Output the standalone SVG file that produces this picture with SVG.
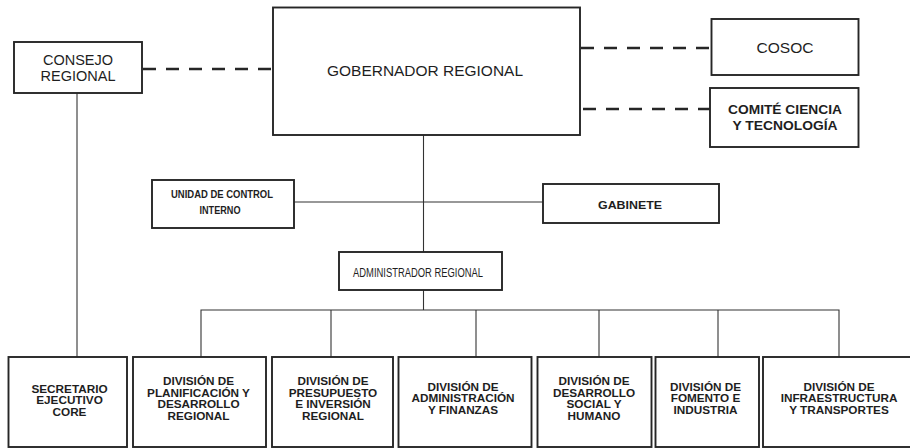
<svg xmlns="http://www.w3.org/2000/svg" width="910" height="448" viewBox="0 0 910 448">
<style>
.box{fill:#fff;stroke:#262626;stroke-width:1.9}
.ln{fill:none;stroke:#333;stroke-width:1.1}
.dash{fill:none;stroke:#262626;stroke-width:2.6;stroke-dasharray:13 10}
.t{font-family:"Liberation Sans",Arial,sans-serif;fill:#1e1e1e;text-anchor:middle}
.big{font-size:14.5px}
.mid{font-size:13px;font-weight:bold}
.sm{font-size:11.5px;font-weight:bold}
.adm{font-size:12.5px}
.b{font-size:10.5px;font-weight:bold}
</style>
<rect width="910" height="448" fill="#fff"/>
<g id="connectors">
<line class="dash" x1="143" y1="69" x2="273" y2="69"/>
<line class="dash" x1="581" y1="48" x2="711" y2="48"/>
<line class="dash" x1="583" y1="109" x2="710" y2="109"/>
<line class="ln" x1="77" y1="93" x2="77" y2="357"/>
<line class="ln" x1="423.5" y1="135" x2="423.5" y2="252"/>
<line class="ln" x1="294" y1="202" x2="543" y2="202"/>
<line class="ln" x1="423.5" y1="290" x2="423.5" y2="310"/>
<polyline class="ln" points="201,357 201,310 839,310 839,357"/>
<line class="ln" x1="331" y1="310" x2="331" y2="357"/>
<line class="ln" x1="476" y1="310" x2="476" y2="357"/>
<line class="ln" x1="599" y1="310" x2="599" y2="357"/>
<line class="ln" x1="718" y1="310" x2="718" y2="357"/>
</g>
<g id="consejo">
<rect class="box" x="14" y="42" width="128" height="51"/>
<text class="t big" x="78" y="65.2">CONSEJO</text>
<text class="t big" x="78" y="81.2">REGIONAL</text>
</g>
<g id="gobernador">
<rect class="box" x="273" y="7.5" width="307" height="127.5"/>
<text class="t big" x="425" y="76" textLength="196" lengthAdjust="spacingAndGlyphs">GOBERNADOR REGIONAL</text>
</g>
<g id="cosoc">
<rect class="box" x="711.5" y="19" width="147" height="56"/>
<text class="t big" x="785" y="53.4" textLength="57" lengthAdjust="spacingAndGlyphs">COSOC</text>
</g>
<g id="comite">
<rect class="box" x="710" y="88" width="148.5" height="59"/>
<text class="t mid" x="785" y="113.6" textLength="114" lengthAdjust="spacingAndGlyphs">COMITÉ CIENCIA</text>
<text class="t mid" x="785" y="129.8" textLength="105" lengthAdjust="spacingAndGlyphs">Y TECNOLOGÍA</text>
</g>
<g id="unidad">
<rect class="box" x="152" y="180" width="142" height="48"/>
<text class="t sm" x="222" y="198" textLength="102" lengthAdjust="spacingAndGlyphs">UNIDAD DE CONTROL</text>
<text class="t sm" x="220" y="214" textLength="41" lengthAdjust="spacingAndGlyphs">INTERNO</text>
</g>
<g id="gabinete">
<rect class="box" x="543" y="184" width="176" height="39"/>
<text class="t sm" x="630" y="208.5" textLength="64" lengthAdjust="spacingAndGlyphs">GABINETE</text>
</g>
<g id="administrador">
<rect class="box" x="339" y="252" width="163" height="38"/>
<text class="t adm" x="418" y="276.5" textLength="130" lengthAdjust="spacingAndGlyphs">ADMINISTRADOR REGIONAL</text>
</g>
<g id="secretario">
<rect class="box" x="8.5" y="357" width="118.5" height="90"/>
<g transform="translate(69.5 0) scale(1.12 1)">
<text class="t b" x="0" y="392.6">SECRETARIO</text>
<text class="t b" x="0" y="404.1">EJECUTIVO</text>
<text class="t b" x="0" y="415.6">CORE</text>
</g>
</g>
<g id="planificacion">
<rect class="box" x="133" y="357" width="133" height="90"/>
<g transform="translate(198.5 0) scale(1.12 1)">
<text class="t b" x="0" y="384.6">DIVISIÓN DE</text>
<text class="t b" x="0" y="396.6">PLANIFICACIÓN Y</text>
<text class="t b" x="0" y="408.1">DESARROLLO</text>
<text class="t b" x="0" y="419.6">REGIONAL</text>
</g>
</g>
<g id="presupuesto">
<rect class="box" x="272" y="357" width="121" height="90"/>
<g transform="translate(333 0) scale(1.12 1)">
<text class="t b" x="0" y="384.6">DIVISIÓN DE</text>
<text class="t b" x="0" y="396.6">PRESUPUESTO</text>
<text class="t b" x="0" y="408.1">E INVERSIÓN</text>
<text class="t b" x="0" y="419.6">REGIONAL</text>
</g>
</g>
<g id="administracion">
<rect class="box" x="398.5" y="357" width="133" height="90"/>
<g transform="translate(463 0) scale(1.12 1)">
<text class="t b" x="0" y="390.6">DIVISIÓN DE</text>
<text class="t b" x="0" y="402.1">ADMINISTRACIÓN</text>
<text class="t b" x="0" y="413.6">Y FINANZAS</text>
</g>
</g>
<g id="desarrollo_social">
<rect class="box" x="537.5" y="357" width="114" height="90"/>
<g transform="translate(594 0) scale(1.12 1)">
<text class="t b" x="0" y="384.6">DIVISIÓN DE</text>
<text class="t b" x="0" y="396.6">DESARROLLO</text>
<text class="t b" x="0" y="408.1">SOCIAL Y</text>
<text class="t b" x="0" y="419.6">HUMANO</text>
</g>
</g>
<g id="fomento">
<rect class="box" x="655.5" y="357" width="103.5" height="90"/>
<g transform="translate(705.5 0) scale(1.12 1)">
<text class="t b" x="0" y="390.6">DIVISIÓN DE</text>
<text class="t b" x="0" y="402.1">FOMENTO E</text>
<text class="t b" x="0" y="413.6">INDUSTRIA</text>
</g>
</g>
<g id="infraestructura">
<rect class="box" x="763" y="357" width="152" height="90"/>
<g transform="translate(839 0) scale(1.12 1)">
<text class="t b" x="0" y="390.6">DIVISIÓN DE</text>
<text class="t b" x="0" y="402.1">INFRAESTRUCTURA</text>
<text class="t b" x="0" y="413.6">Y TRANSPORTES</text>
</g>
</g>
</svg>
